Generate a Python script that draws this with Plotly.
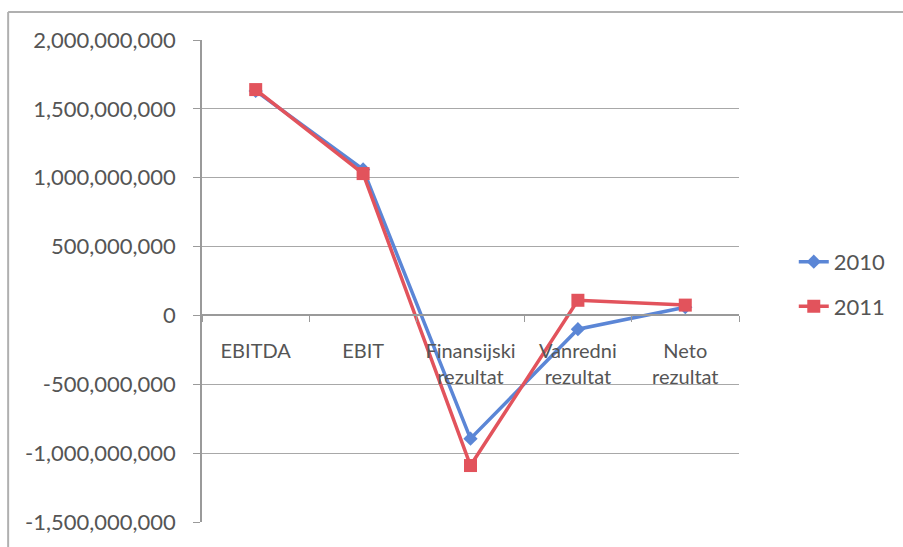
import plotly.graph_objects as go

categories = ["EBITDA", "EBIT", "Finansijski<br>rezultat", "Vanredni<br>rezultat", "Neto<br>rezultat"]
values_2010 = [1630000000, 1060000000, -895000000, -100000000, 60000000]
values_2011 = [1640000000, 1030000000, -1090000000, 110000000, 75000000]
y_ticks = [2000000000, 1500000000, 1000000000, 500000000, 0, -500000000, -1000000000, -1500000000]
y_tick_labels = ["2,000,000,000", "1,500,000,000", "1,000,000,000", "500,000,000", "0",
                 "-500,000,000", "-1,000,000,000", "-1,500,000,000"]

BLUE = "#5B86D6"
RED = "#E2535C"
FONT = "Lato"
TXT = "#555555"

fig = go.Figure()
fig.add_trace(go.Scatter(x=categories, y=values_2010, name="2010", mode="lines+markers",
                         legendgroup="a",
                         line=dict(color=BLUE, width=3.5),
                         marker=dict(symbol="diamond", size=11, color=BLUE)))
fig.add_trace(go.Scatter(x=categories, y=values_2011, name="2011", mode="lines+markers",
                         legendgroup="b",
                         line=dict(color=RED, width=3.5),
                         marker=dict(symbol="square", size=13, color=RED)))

ymin, ymax = -1500000000, 2000000000
zero_pos = (0 - ymin) / (ymax - ymin)

fig.update_layout(
    width=903, height=547,
    margin=dict(l=202, r=161, t=40, b=23),
    paper_bgcolor="white", plot_bgcolor="white",
    font=dict(family=FONT, size=20, color=TXT),
    showlegend=True,
    legend=dict(x=1.102, y=0.493, xanchor="left", yanchor="middle",
                font=dict(family=FONT, size=22, color=TXT),
                tracegroupgap=13),
    xaxis=dict(type="category", anchor="free", position=zero_pos,
               showline=True, linecolor="#9a9a9a", linewidth=1.5,
               showgrid=False, ticks="outside", ticklen=6, tickcolor="#9a9a9a",
               tickson="boundaries", ticklabelstandoff=18,
               tickfont=dict(family=FONT, size=20, color=TXT),
               range=[-0.5, 4.5], zeroline=False),
    yaxis=dict(range=[ymin, ymax], tickvals=y_ticks, ticktext=y_tick_labels,
               showgrid=True, gridcolor="#a8a8a8", gridwidth=1.2,
               showline=True, linecolor="#9a9a9a", linewidth=1.5,
               ticks="outside", ticklen=7, tickcolor="#9a9a9a", ticklabelstandoff=13,
               zeroline=False, tickfont=dict(family=FONT, size=22, color=TXT)),
    shapes=[
        dict(type="line", xref="paper", yref="paper", x0=-0.361, x1=1.4, y0=1.058, y1=1.058,
             line=dict(color="#b0b0b0", width=2)),
        dict(type="line", xref="paper", yref="paper", x0=-0.361, x1=-0.361, y0=-0.1, y1=1.058,
             line=dict(color="#b0b0b0", width=2)),
    ],
)

fig.write_html("out.html", config={"displayModeBar": False},
               post_script="document.body.style.margin='0';")
